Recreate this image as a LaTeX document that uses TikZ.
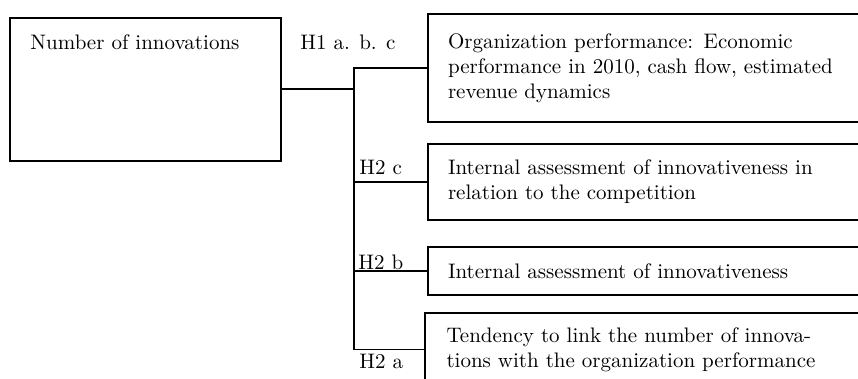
\documentclass[tikz,border=0pt]{standalone}
\begin{document}
\begin{tikzpicture}[x=0.5pt,y=-0.5pt,
  every node/.style={font=\fontsize{10.5}{12.5}\selectfont},
  outbox/.style={draw, line width=1pt, rectangle, anchor=north west, align=left,
    inner xsep=10pt, text width=206.5pt, minimum width=226.5pt},
  srcbox/.style={draw, line width=0.8pt, rectangle, anchor=north west,
    minimum width=135.5pt, minimum height=71.5pt, inner sep=0pt},
  hlab/.style={inner sep=0pt, anchor=west},
  stem/.style={line width=1pt},
  branch/.style={line width=0.55pt}]
\useasboundingbox (0,0) rectangle (858,379);
\node[srcbox] (src) at (9,17) {};
\node[hlab, anchor=west] (srct) at (30,42) {Number of innovations};
\node[outbox, minimum height=54pt] (b1) at (427,13)
  {Organization performance: Economic\\performance in 2010, cash flow, estimated\\revenue dynamics};
\node[outbox, minimum height=38pt] (b2) at (427,143)
  {Internal assessment of innovativeness in\\relation to the competition};
\node[outbox, minimum height=24pt] (b3) at (427,246)
  {Internal assessment of innovativeness};
\node[outbox, minimum height=36.5pt, minimum width=228pt] (b4) at (424,312)
  {Tendency to link the number of innova-\\tions with the organization performance};
\coordinate (bx) at (354,0);
\coordinate (j) at (src.east -| bx);
\coordinate (jb) at (b3.west -| bx);
\draw[stem] (src.east) -- (j);
\draw[branch] (j) |- (b1.west);
\draw[stem] (j) -- (jb);
\draw[branch] (b2.west -| bx) -- (b2.west);
\draw[branch] (jb) -- (b3.west);
\draw[branch] (jb) |- (b4.west);
\node[hlab] (l1) at (300,42) {H1 a. b. c};
\node[hlab] (l2) at (359,167) {H2 c};
\node[hlab] (l3) at (358,262) {H2 b};
\node[hlab] (l4) at (359,361) {H2 a};
\end{tikzpicture}
\end{document}
